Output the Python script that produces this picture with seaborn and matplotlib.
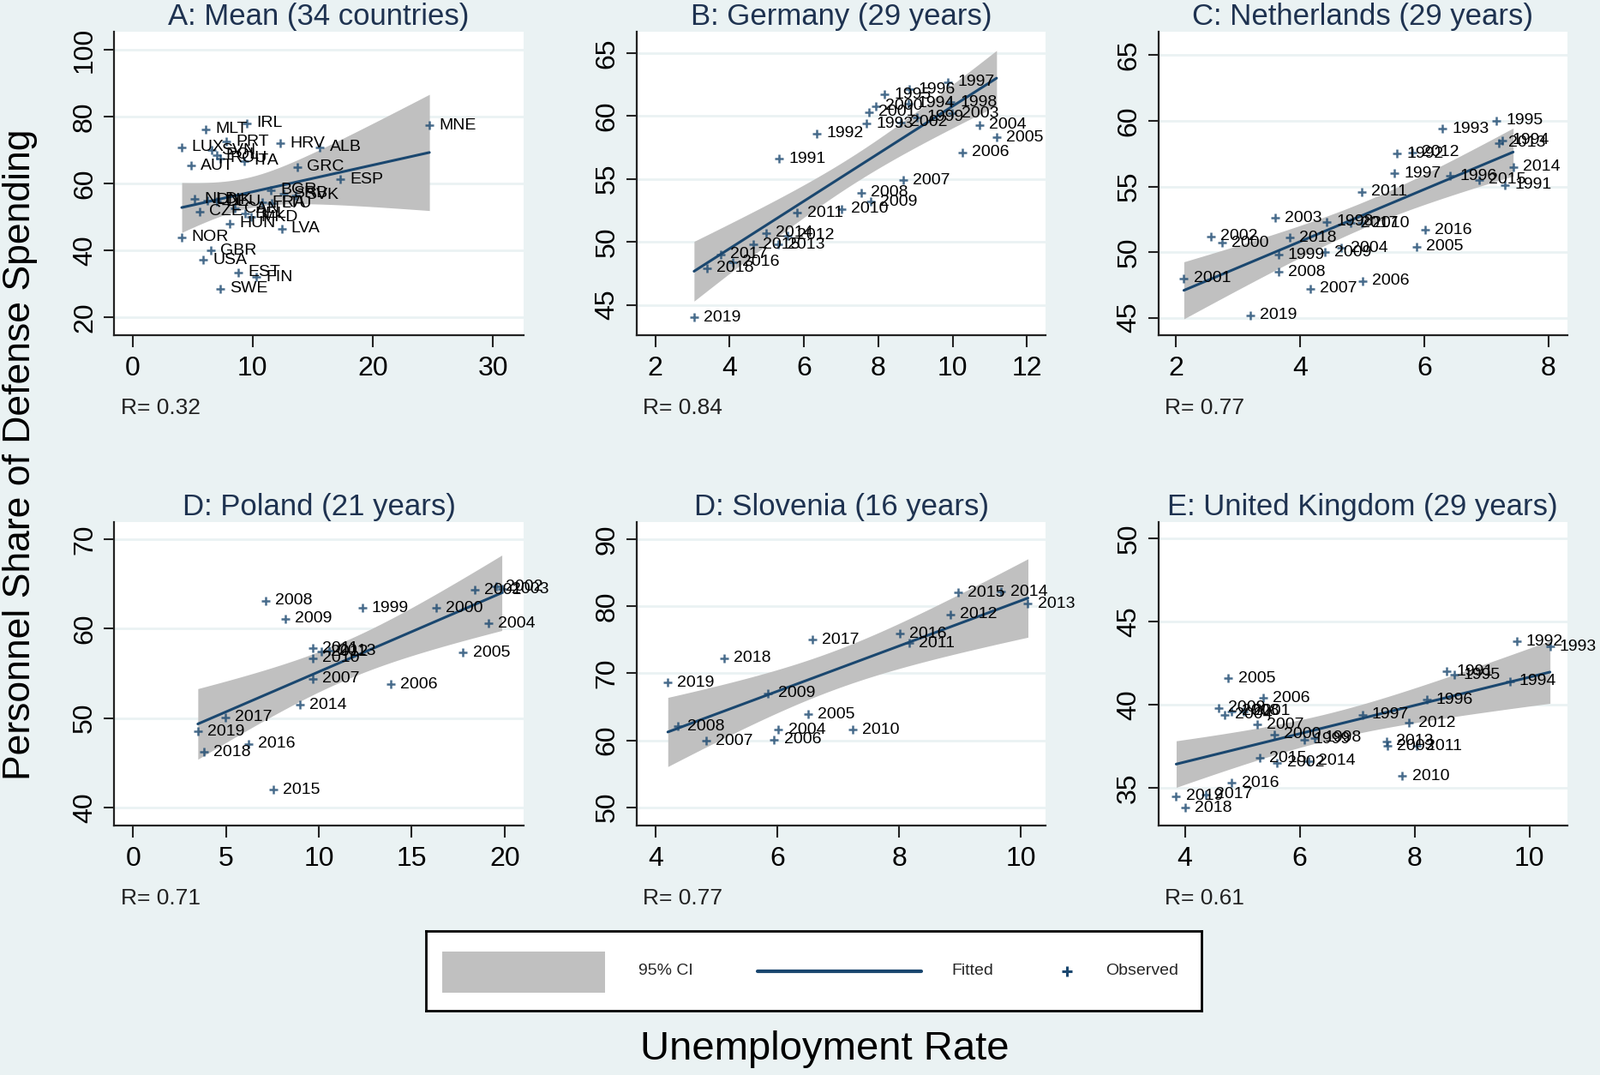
import numpy as np
import pandas as pd
import matplotlib
matplotlib.use("Agg")
import matplotlib.pyplot as plt
import seaborn as sns
from matplotlib.lines import Line2D
from matplotlib.patches import Rectangle

# ---------------- data ----------------
# Panel A: country means
a_labels = ["MNE", "MLT", "IRL", "PRT", "HRV", "ALB", "LUX", "SVN", "POL", "ROU",
            "ITA", "AUT", "GRC", "ESP", "BGR", "SRB", "SVK", "NLD", "DNK", "DEU",
            "CZE", "CAN", "BEL", "FRA", "LTU", "MKD", "HUN", "LVA", "NOR", "GBR",
            "USA", "EST", "FIN", "SWE"]
a_x = [24.7, 6.1, 9.5, 7.8, 12.3, 15.6, 4.1, 6.6, 7.0, 7.3,
       9.3, 4.9, 13.7, 17.3, 11.5, 12.6, 13.6, 5.2, 6.2, 7.0,
       5.6, 8.5, 9.4, 10.8, 11.6, 9.9, 8.1, 12.4, 4.1, 6.5,
       5.9, 8.8, 10.3, 7.3]
a_y = [77.4, 76.2, 78.0, 72.5, 72.0, 70.9, 70.8, 70.0, 68.5, 67.5,
       66.8, 65.3, 65.0, 61.2, 58.0, 57.0, 56.5, 55.3, 55.0, 54.5,
       51.6, 52.5, 51.0, 54.3, 54.0, 50.0, 48.0, 46.5, 43.9, 39.9,
       37.1, 33.4, 32.0, 28.5]

# Panel B: Germany
b_years = [1991, 1992, 1993, 1994, 1995, 1996, 1997, 1998, 1999, 2000,
           2001, 2002, 2003, 2004, 2005, 2006, 2007, 2008, 2009, 2010,
           2011, 2012, 2013, 2014, 2015, 2016, 2017, 2018, 2019]
b_x = [5.33, 6.34, 7.69, 8.80, 8.17, 8.82, 9.88, 9.94, 9.05, 7.94,
       7.75, 8.60, 9.98, 10.73, 11.18, 10.27, 8.67, 7.53, 7.80, 7.00,
       5.82, 5.55, 5.30, 4.98, 4.63, 4.07, 3.76, 3.38, 3.04]
b_y = [56.6, 58.6, 59.4, 61.0, 61.7, 62.1, 62.7, 61.1, 59.9, 60.8,
       60.3, 59.5, 60.2, 59.3, 58.3, 57.1, 54.9, 53.9, 53.2, 52.6,
       52.3, 50.5, 49.8, 50.7, 49.8, 48.4, 49.0, 47.9, 44.0]

# Panel C: Netherlands
c_years = [1991, 1992, 1993, 1994, 1995, 1996, 1997, 1998, 1999, 2000,
           2001, 2002, 2003, 2004, 2005, 2006, 2007, 2008, 2009, 2010,
           2011, 2012, 2013, 2014, 2015, 2016, 2017, 2018, 2019]
c_x = [7.30, 5.56, 6.29, 7.26, 7.16, 6.42, 5.52, 4.43, 3.65, 2.74,
       2.13, 2.56, 3.60, 4.66, 5.88, 5.01, 4.16, 3.66, 4.40, 5.00,
       4.99, 5.81, 7.20, 7.43, 6.88, 6.01, 4.82, 3.83, 3.20]
c_y = [55.1, 57.5, 59.4, 58.5, 60.0, 55.8, 56.0, 52.3, 49.8, 50.7,
       48.0, 51.2, 52.6, 50.3, 50.4, 47.8, 47.2, 48.5, 50.0, 52.2,
       54.6, 57.6, 58.3, 56.5, 55.5, 51.7, 52.2, 51.1, 45.2]

# Panel D: Poland
d_years = [1999, 2000, 2001, 2002, 2003, 2004, 2005, 2006, 2007, 2008,
           2009, 2010, 2011, 2012, 2013, 2014, 2015, 2016, 2017, 2018, 2019]
d_x = [12.34, 16.30, 18.38, 19.54, 19.85, 19.12, 17.77, 13.88, 9.66, 7.15,
       8.20, 9.66, 9.66, 10.15, 10.54, 9.00, 7.54, 6.20, 4.97, 3.82, 3.49]
d_y = [62.3, 62.3, 64.3, 64.7, 64.4, 60.6, 57.3, 53.8, 54.4, 63.1,
       61.1, 56.7, 57.8, 57.4, 57.5, 51.5, 42.0, 47.1, 50.1, 46.2, 48.5]

# Panel E: Slovenia
e_years = [2004, 2005, 2006, 2007, 2008, 2009, 2010, 2011, 2012, 2013,
           2014, 2015, 2016, 2017, 2018, 2019]
e_x = [6.02, 6.51, 5.95, 4.83, 4.37, 5.85, 7.24, 8.17, 8.84, 10.12,
       9.67, 8.97, 8.01, 6.57, 5.12, 4.20]
e_y = [61.6, 63.9, 60.1, 59.9, 62.1, 67.0, 61.6, 74.5, 78.8, 80.4,
       82.2, 82.1, 75.9, 75.0, 72.3, 68.6]

# Panel F: United Kingdom
f_years = [1991, 1992, 1993, 1994, 1995, 1996, 1997, 1998, 1999, 2000,
           2001, 2002, 2003, 2004, 2005, 2006, 2007, 2008, 2009, 2010,
           2011, 2012, 2013, 2014, 2015, 2016, 2017, 2018, 2019]
f_x = [8.56, 9.78, 10.36, 9.66, 8.69, 8.21, 7.09, 6.26, 6.08, 5.56,
       5.02, 5.61, 7.53, 4.70, 4.76, 5.36, 5.26, 4.82, 4.59, 7.79,
       8.03, 7.90, 7.52, 6.16, 5.31, 4.82, 4.37, 4.00, 3.85]
f_y = [42.0, 43.8, 43.5, 41.4, 41.8, 40.3, 39.4, 38.0, 37.9, 38.2,
       39.6, 36.5, 37.5, 39.4, 41.6, 40.4, 38.8, 39.6, 39.8, 35.7,
       37.5, 38.9, 37.8, 36.6, 36.8, 35.3, 34.6, 33.8, 34.5]

panel_titles = ["A: Mean (34 countries)", "B: Germany (29 years)",
                "C: Netherlands (29 years)", "D: Poland (21 years)",
                "D: Slovenia (16 years)", "E: United Kingdom (29 years)"]
r_texts = ["R= 0.32", "R= 0.84", "R= 0.77", "R= 0.71", "R= 0.77", "R= 0.61"]

x_ticks = [[0, 10, 20, 30], [2, 4, 6, 8, 10, 12], [2, 4, 6, 8],
           [0, 5, 10, 15, 20], [4, 6, 8, 10], [4, 6, 8, 10]]
y_ticks = [[20, 40, 60, 80, 100], [45, 50, 55, 60, 65], [45, 50, 55, 60, 65],
           [40, 50, 60, 70], [50, 60, 70, 80, 90], [35, 40, 45, 50]]

legend_labels = ["95% CI", "Fitted", "Observed"]
x_title = "Unemployment Rate"
y_title = "Personnel Share of Defense Spending"

# ---------------- style ----------------
sns.set_theme(style="ticks")
plt.rcParams["font.family"] = ["Liberation Sans", "DejaVu Sans"]

BG = "#eaf2f3"
NAVY = "#1a476f"
BAND = "#c0c0c0"
AXC = "#222222"
TITLEC = "#1e3250"

T975 = {32: 2.0369, 27: 2.0518, 19: 2.0930, 14: 2.1448}

fig = plt.figure(figsize=(18.67, 12.54), dpi=100, facecolor=BG)

lefts = [0.0715, 0.398, 0.724]
bottoms = [0.688, 0.2317]
W, H = 0.2555, 0.2826

xlims = [(-1.5, 32.5), (1.5, 12.5), (1.72, 8.3),
         (-1.0, 21.0), (3.69, 10.41), (3.54, 10.66)]
ylims = [(14.5, 105.5), (42.57, 66.7), (43.65, 66.8),
         (37.95, 71.9), (47.2, 92.6), (32.7, 51.0)]

panels = [(a_x, a_y, a_labels), (b_x, b_y, b_years), (c_x, c_y, c_years),
          (d_x, d_y, d_years), (e_x, e_y, e_years), (f_x, f_y, f_years)]

for i, (px, py, plab) in enumerate(panels):
    row, col = divmod(i, 3)
    ax = fig.add_axes([lefts[col], bottoms[row], W, H])
    ax.set_facecolor("white")
    df = pd.DataFrame({"x": px, "y": py, "lab": [str(v) for v in plab]})

    # analytic 95% confidence band of the linear fit
    X = df["x"].to_numpy(float)
    Y = df["y"].to_numpy(float)
    n = len(X)
    b1, b0 = np.polyfit(X, Y, 1)
    grid = np.linspace(X.min(), X.max(), 200)
    resid = Y - (b0 + b1 * X)
    s = np.sqrt(np.sum(resid ** 2) / (n - 2))
    sxx = np.sum((X - X.mean()) ** 2)
    se = s * np.sqrt(1.0 / n + (grid - X.mean()) ** 2 / sxx)
    t = T975.get(n - 2, 2.05)
    fit = b0 + b1 * grid
    ax.fill_between(grid, fit - t * se, fit + t * se, color=BAND, lw=0, zorder=1)

    sns.regplot(data=df, x="x", y="y", ax=ax, ci=None, marker="+", color=NAVY,
                scatter_kws=dict(s=55, linewidths=1.8, zorder=4),
                line_kws=dict(color=NAVY, lw=2.2, zorder=3))

    for xi, yi, lab in zip(df["x"], df["y"], df["lab"]):
        ax.annotate(lab, (xi, yi), xytext=(8, 0), textcoords="offset points",
                    va="center", ha="left", fontsize=14, color="black",
                    annotation_clip=False, zorder=5)

    ax.set_xlim(*xlims[i])
    ax.set_ylim(*ylims[i])
    ax.set_xticks(x_ticks[i])
    ax.set_yticks(y_ticks[i])
    ax.set_xlabel("")
    ax.set_ylabel("")
    ax.yaxis.grid(True, color=BG, lw=2)
    ax.xaxis.grid(False)
    ax.set_axisbelow(True)
    for sp in ["top", "right"]:
        ax.spines[sp].set_visible(False)
    for sp in ["left", "bottom"]:
        ax.spines[sp].set_color(AXC)
        ax.spines[sp].set_linewidth(1.6)
    ax.tick_params(axis="both", direction="out", width=1.5, color=AXC,
                   labelsize=23, labelcolor="black", left=True, bottom=True)
    ax.tick_params(axis="x", length=10, pad=7)
    ax.tick_params(axis="y", length=9, pad=5, labelrotation=90)
    for lab in ax.get_yticklabels():
        lab.set_va("center")

    ax.set_title(panel_titles[i], fontsize=25, color=TITLEC, pad=6)
    ax.text(0.015, -0.24, r_texts[i], transform=ax.transAxes, fontsize=19,
            va="center", ha="left", color="#222222")

# axis titles
fig.text(0.0128, 0.577, y_title, rotation=90, fontsize=32, va="center",
         ha="center", color="black")
fig.text(0.5156, 0.0237, x_title, fontsize=34, va="center", ha="center",
         color="black")

# legend box
lax = fig.add_axes([0.266, 0.0598, 0.485, 0.0741])
lax.set_facecolor("white")
lax.set_xlim(0, 1)
lax.set_ylim(0, 1)
lax.set_xticks([])
lax.set_yticks([])
for sp in lax.spines.values():
    sp.set_visible(True)
    sp.set_color("black")
    sp.set_linewidth(2)
lax.add_patch(Rectangle((0.021, 0.23), 0.21, 0.514, color=BAND, lw=0))
lax.text(0.274, 0.5, legend_labels[0], fontsize=14, va="center", ha="left")
lax.add_line(Line2D([0.4276, 0.6382], [0.5, 0.5], color=NAVY, lw=3))
lax.text(0.6776, 0.5, legend_labels[1], fontsize=14, va="center", ha="left")
lax.plot([0.826], [0.5], marker="+", color=NAVY, markersize=9, mew=2.2, ls="none")
lax.text(0.876, 0.5, legend_labels[2], fontsize=14, va="center", ha="left")

fig.savefig("out.png", dpi=100, facecolor=BG)
